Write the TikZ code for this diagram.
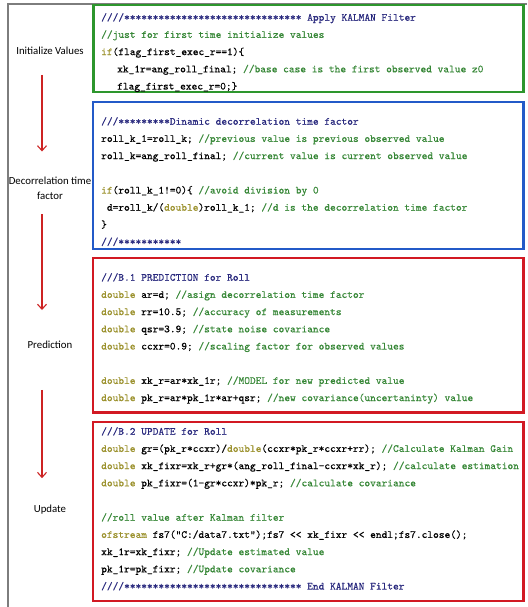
\documentclass[tikz,border=0pt]{standalone}
\usepackage{fontspec}
\newfontfamily\codefont{Latin Modern Mono}[FakeBold=0.5]
\newfontfamily\labelfont{Carlito}
\usetikzlibrary{arrows.meta}
\definecolor{framegray}{RGB}{125,125,125}
\definecolor{boxgreen}{RGB}{45,150,45}
\definecolor{boxblue}{RGB}{35,90,200}
\definecolor{boxred}{RGB}{210,25,35}
\definecolor{kwolive}{RGB}{155,145,45}
\definecolor{cmtgreen}{RGB}{55,135,55}
\definecolor{hdrnavy}{RGB}{40,40,125}
\definecolor{arrowred}{RGB}{205,35,35}
\newcommand{\kw}[1]{\textcolor{kwolive}{#1}}
\newcommand{\cmt}[1]{\textcolor{cmtgreen}{#1}}
\newcommand{\hdr}[1]{\textcolor{hdrnavy}{#1}}
\begin{document}
\begin{tikzpicture}[x=1pt,y=-1pt,
  code/.style={anchor=north west,inner sep=0pt,align=left,
    font=\codefont\fontsize{10.9}{17.2}\selectfont},
  codebox/.style={line width=2.8pt},
  steplabel/.style={font=\labelfont\fontsize{10.8}{15}\selectfont,align=center,inner sep=0pt},
  flow/.style={draw=arrowred,line width=1.1pt,-{Straight Barb[length=5pt,width=9pt]}}]
\useasboundingbox (0,0) rectangle (527,607);
\clip (0,0) rectangle (527,607);

% outer frame
\draw[framegray,line width=1.2pt] (527,4) -- (8,4) -- (8,607);

% code blocks
\draw[boxgreen,codebox] (93.5,5) rectangle (523.5,92);
\draw[boxblue,codebox] (93,102) rectangle (523.5,249);
\draw[boxred,codebox] (93,258) rectangle (523.5,412.5);
\draw[boxred,codebox] (93,422) rectangle (523.5,601);

\node[code] (init) at (101,8.5) {\strut\hdr{////******************************* Apply KALMAN Filter}\\
\cmt{//just for first time initialize values}\\
\kw{if}(flag\_first\_exec\_r==1)\{\\
\hspace*{16pt}xk\_1r=ang\_roll\_final; \cmt{//base case is the first observed value z0}\\
\hspace*{16pt}flag\_first\_exec\_r=0;\}};

\node[code] (decor) at (101,112.5) {\strut\hdr{///*********Dinamic decorrelation time factor}\\
roll\_k\_1=roll\_k; \cmt{//previous value is previous observed value}\\
roll\_k=ang\_roll\_final; \cmt{//current value is current observed value}\\
\strut\\
\kw{if}(roll\_k\_1!=0)\{ \cmt{//avoid division by 0}\\
\hspace*{5.7pt}d=roll\_k/(\kw{double})roll\_k\_1; \cmt{//d is the decorrelation time factor}\\
\}\\
\hdr{///***********}};

\node[code] (pred) at (101,268.5) {\strut\hdr{///B.1 PREDICTION for Roll}\\
\kw{double} ar=d; \cmt{//asign decorrelation time factor}\\
\kw{double} rr=10.5; \cmt{//accuracy of measurements}\\
\kw{double} qsr=3.9; \cmt{//state noise covariance}\\
\kw{double} ccxr=0.9; \cmt{//scaling factor for observed values}\\
\strut\\
\kw{double} xk\_r=ar*xk\_1r; \cmt{//MODEL for new predicted value}\\
\kw{double} pk\_r=ar*pk\_1r*ar+qsr; \cmt{//new covariance(uncertaninty) value}};

\node[code] (upd) at (101,422.5) {\strut\hdr{///B.2 UPDATE for Roll}\\
\kw{double} gr=(pk\_r*ccxr)/\kw{double}(ccxr*pk\_r*ccxr+rr); \cmt{//Calculate Kalman Gain}\\
\kw{double} xk\_fixr=xk\_r+gr*(ang\_roll\_final-ccxr*xk\_r); \cmt{//calculate estimation}\\
\kw{double} pk\_fixr=(1-gr*ccxr)*pk\_r; \cmt{//calculate covariance}\\
\strut\\
\cmt{//roll value after Kalman filter}\\
\kw{ofstream} fs7("C:/data7.txt");fs7 << xk\_fixr << endl;fs7.close();\\
xk\_1r=xk\_fixr; \cmt{//Update estimated value}\\
pk\_1r=pk\_fixr; \cmt{//Update covariance}\\
\hdr{////******************************* End KALMAN Filter}};

% step labels down the left margin
\coordinate (axis) at (42,0);
\node[steplabel] (s1) at (50,51) {Initialize Values};
\node[steplabel] (s2) at (50,188) {Decorrelation time\\factor};
\node[steplabel] (s3) at (50,345) {Prediction};
\node[steplabel] (s4) at (50,510) {Update};

% flow arrows between the steps
\draw[flow,shorten <=20pt,shorten >=25pt] (s1.south -| axis) -- (s2.north -| axis);
\draw[flow,shorten <=15pt,shorten >=31pt] (s2.south -| axis) -- (s3.north -| axis);
\draw[flow,shorten <=41pt,shorten >=27pt] (s3.south -| axis) -- (s4.north -| axis);
\end{tikzpicture}
\end{document}
